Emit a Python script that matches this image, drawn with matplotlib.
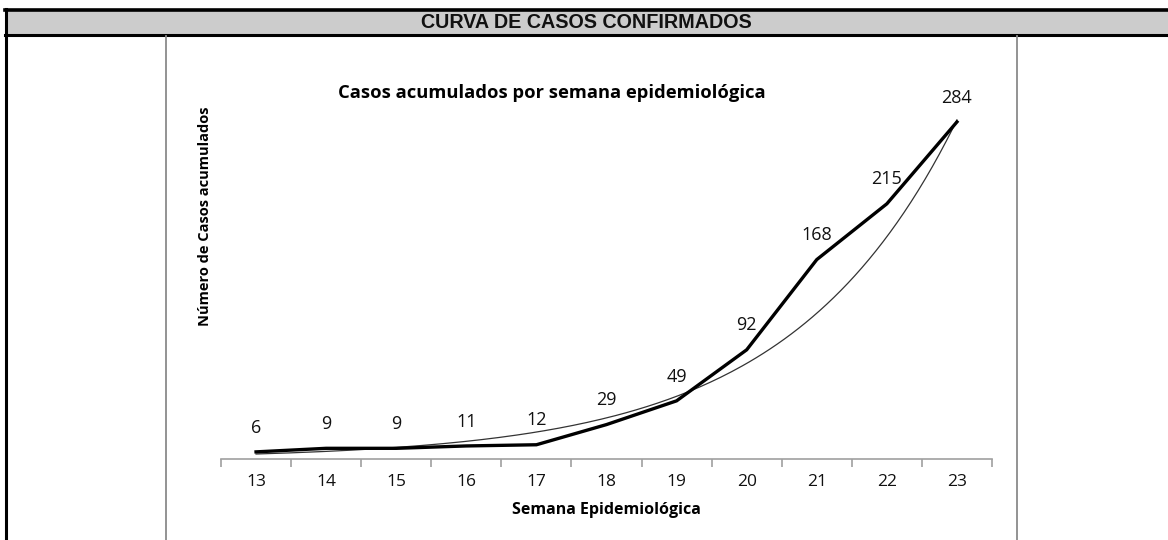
import numpy as np
import matplotlib
matplotlib.use("Agg")
import matplotlib.pyplot as plt
from matplotlib.lines import Line2D
from matplotlib.patches import Rectangle

weeks = [13, 14, 15, 16, 17, 18, 19, 20, 21, 22, 23]
cases = [6, 9, 9, 11, 12, 29, 49, 92, 168, 215, 284]

header = "CURVA DE CASOS CONFIRMADOS"
title = "Casos acumulados por semana epidemiológica"
xlabel = "Semana Epidemiológica"
ylabel = "Número de Casos acumulados"

W, H = 1168, 540
fig = plt.figure(figsize=(W / 100, H / 100), dpi=100)
fig.patch.set_facecolor("white")

def fx(px):
    return px / W

def fy(py):
    return 1 - py / H

# Header band and frame
fig.add_artist(Rectangle((fx(5), fy(35)), 1, fy(10) - fy(35), transform=fig.transFigure,
                         facecolor="#cccccc", edgecolor="none", zorder=0))
fig.add_artist(Line2D([fx(5), 1], [fy(10), fy(10)], transform=fig.transFigure, color="black", lw=2.6))
fig.add_artist(Line2D([fx(5), 1], [fy(35), fy(35)], transform=fig.transFigure, color="black", lw=2.2))
fig.add_artist(Line2D([fx(6), fx(6)], [fy(9), 0], transform=fig.transFigure, color="black", lw=2.2))
fig.add_artist(Line2D([fx(166), fx(166)], [fy(36), 0], transform=fig.transFigure, color="#8a8a8a", lw=1.3))
fig.add_artist(Line2D([fx(1017), fx(1017)], [fy(36), 0], transform=fig.transFigure, color="#8a8a8a", lw=1.3))
fig.text(fx(586), fy(22.5), header, ha="center", va="center", fontsize=14.2,
         fontweight="bold", family="Liberation Sans", color="#111111")

# Axes
ymax = 300
ax = fig.add_axes([fx(221), fy(459), fx(992) - fx(221), (ymax * 1.187) / H])
x = np.arange(len(weeks))
ax.set_xlim(-0.5, len(weeks) - 0.5)
ax.set_ylim(0, ymax)

# Exponential trendline (least-squares fit on log values)
b, a = np.polyfit(x, np.log(cases), 1)
xt = np.linspace(0, len(weeks) - 1, 200)
ax.plot(xt, np.exp(a + b * xt), color="#333333", lw=0.9, zorder=2)

ax.plot(x, cases, color="black", lw=2.4, zorder=3, solid_joinstyle="miter")

for xi, v in zip(x, cases):
    ax.annotate(str(v), (xi, v), xytext=(0, 17.5), textcoords="offset points",
                ha="center", va="center", fontsize=13, family="Open Sans", color="#111111")

for s in ["top", "right", "left"]:
    ax.spines[s].set_visible(False)
ax.spines["bottom"].set_color("#a0a0a0")
ax.spines["bottom"].set_linewidth(1.2)
ax.set_yticks([])
ax.set_xticks(x)
ax.set_xticklabels([str(w) for w in weeks], fontsize=12.5, family="Open Sans", color="#111111")
ax.tick_params(axis="x", which="major", length=0, pad=11)
ax.set_xticks(np.arange(-0.5, len(weeks), 1.0), minor=True)
ax.tick_params(axis="x", which="minor", length=6, width=1.2, color="#a0a0a0")

fig.text(fx(606), fy(510), xlabel, ha="center", va="center", fontsize=11.5,
         fontweight="bold", family="Open Sans")
fig.text(fx(205), fy(216), ylabel, ha="center", va="center", fontsize=10.5,
         fontweight="bold", family="Open Sans", rotation=90)
fig.text(fx(552), fy(93), title, ha="center", va="center", fontsize=13.2,
         fontweight="bold", family="Open Sans")

fig.savefig("out.png", dpi=100, facecolor="white")
